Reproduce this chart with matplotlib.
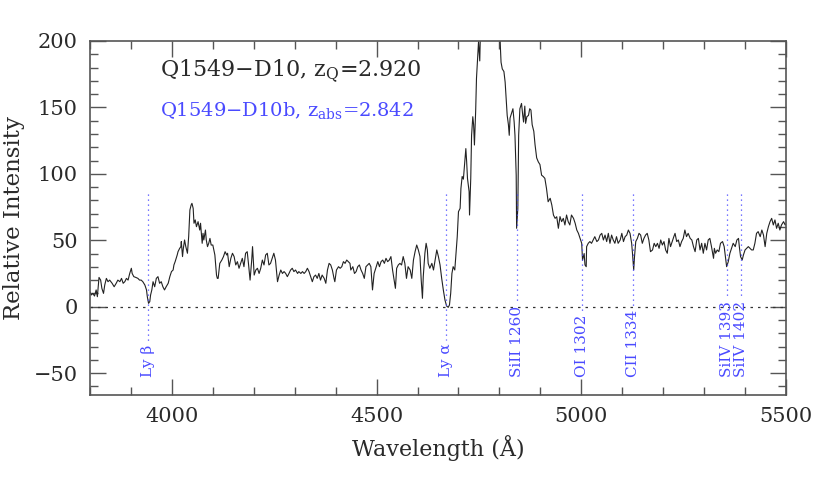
import numpy as np
import matplotlib
matplotlib.use("Agg")
import matplotlib.pyplot as plt
from matplotlib.ticker import MultipleLocator

# spectrum (wavelength in A, relative intensity)
wave = [3800, 3803, 3807, 3811, 3815, 3818, 3822, 3826, 3829, 3833, 3836, 3840, 3844, 3848,
        3854, 3859, 3864, 3868, 3873, 3877, 3881, 3885, 3889, 3893, 3897, 3901, 3903, 3907,
        3912, 3917, 3921, 3925, 3929, 3934, 3938, 3940, 3943, 3946, 3948, 3951, 3954, 3958,
        3962, 3966, 3970, 3974, 3978, 3982, 3986, 3991, 3995, 3999, 4003, 4005, 4008, 4013,
        4015, 4019, 4022, 4023, 4026, 4028, 4031, 4034, 4038, 4041, 4044, 4047, 4049, 4052,
        4054, 4057, 4060, 4064, 4068, 4070, 4074, 4076, 4078, 4082, 4084, 4087, 4090, 4093,
        4096, 4100, 4105, 4109, 4111,
        4113, 4117, 4122, 4126, 4130, 4134, 4136, 4140, 4144, 4148, 4152, 4156, 4160, 4164,
        4168, 4172, 4176, 4180, 4184, 4187, 4191, 4195, 4197, 4201, 4205, 4209, 4213, 4217,
        4221, 4225, 4229, 4233, 4237, 4241, 4245, 4249, 4253, 4258, 4262, 4266, 4270, 4274,
        4278, 4282, 4286, 4290, 4294, 4298, 4302, 4307, 4310, 4315, 4319, 4323, 4327, 4331,
        4335, 4339, 4343, 4347, 4351, 4355, 4359, 4363, 4367, 4372, 4376, 4380, 4384, 4388,
        4392, 4396, 4398, 4402, 4407,
        4411, 4415, 4419, 4423, 4427, 4431, 4435, 4437, 4442, 4446, 4450, 4454, 4458, 4462,
        4466, 4470, 4474, 4478, 4482, 4486, 4490, 4494, 4499, 4503, 4507, 4511, 4515, 4519,
        4523, 4527, 4531, 4535, 4539, 4543, 4546, 4549, 4553, 4557, 4561, 4565, 4569, 4573,
        4577, 4582, 4586, 4590, 4594, 4598, 4602, 4606, 4609, 4612, 4614, 4618, 4621, 4624,
        4626, 4630, 4635, 4639, 4643, 4647, 4651, 4655, 4659, 4663, 4667, 4671, 4675, 4678,
        4681, 4684, 4687, 4691, 4694, 4697,
        4700, 4704, 4706, 4709, 4712, 4714, 4718, 4720, 4722, 4726, 4727, 4730, 4732, 4735,
        4737, 4739, 4742, 4744, 4747, 4749, 4752, 4755, 4765, 4775, 4785, 4795, 4801, 4804,
        4807, 4811, 4814, 4816, 4819, 4822, 4824, 4826, 4830, 4833, 4836, 4838, 4841, 4842,
        4845, 4847, 4850, 4854, 4857, 4859, 4862, 4864, 4867, 4871, 4874, 4877, 4880, 4884,
        4887, 4891, 4895, 4899, 4903, 4907, 4911, 4915, 4919, 4924, 4928, 4932, 4936, 4940,
        4944,
        4948, 4952, 4956, 4960, 4964, 4968, 4972, 4976, 4981, 4985, 4989, 4993, 4997, 5001,
        5003, 5007, 5009, 5012, 5013, 5017, 5021, 5025, 5029, 5033, 5038, 5042, 5046, 5050,
        5054, 5058, 5062, 5066, 5070, 5074, 5078, 5082, 5086, 5090, 5095, 5099, 5103, 5107,
        5111, 5115, 5119, 5123, 5125, 5128, 5130, 5133, 5137, 5141, 5145, 5149, 5153, 5157,
        5161, 5165, 5169, 5174, 5178, 5182, 5186, 5190, 5194, 5198, 5202, 5206, 5210, 5214,
        5218, 5222, 5226,
        5229, 5233, 5237, 5241, 5245, 5249, 5253, 5257, 5261, 5266, 5270, 5274, 5278, 5282,
        5286, 5290, 5294, 5298, 5302, 5306, 5310, 5314, 5318, 5323, 5325, 5328, 5332, 5336,
        5340, 5345, 5349, 5352, 5355, 5359, 5363, 5367, 5371, 5376, 5380, 5384, 5386, 5389,
        5393, 5396, 5400, 5404, 5408, 5412, 5416, 5420, 5424, 5428, 5432, 5437, 5441, 5445,
        5449, 5453, 5457, 5461, 5465, 5469, 5473, 5477, 5481, 5485, 5489, 5494, 5498, 5502]

flux = [11, 8.8, 10, 8, 12.6, 7.5, 22, 20, 13.8, 10, 16.3, 21.3, 18.8, 20,
        17.6, 15, 17.6, 20, 18.8, 21.3, 17.6, 18.8, 21.3, 20, 25, 28.9, 25, 22.6,
        22, 21.3, 20, 20, 18.8, 16.3, 12.6, 7.5, 2.5, 3.8, 8.8, 12.6, 18.8, 15,
        21.3, 22.6, 17.6, 18.8, 15, 12.6, 15, 17.6, 22.6, 26.4, 27.6, 31.4, 33.9, 38.9,
        41.4, 43.9, 45.2, 49, 37.7, 43.9, 50.2, 45.2, 40.2, 52.7, 72.8, 76.5, 77.8, 74,
        62.8, 65.3, 60.2, 64, 57.7, 62.8, 47.7, 55.2, 50.2, 57.7, 50.2, 45.2, 47.7, 51.4,
        46.4, 46.4, 38.9, 23.8, 21.3,
        21.3, 32.6, 35.1, 37.7, 41.4, 38.9, 40.2, 30.1, 36.4, 40.2, 37.7, 31.4, 33.9, 28.9,
        32.6, 36.4, 30.1, 40.2, 41.4, 32.6, 20, 35.1, 45.2, 23.8, 27.6, 28.9, 25, 28.9,
        35.1, 31.4, 38.9, 40.2, 31.4, 32.6, 36.4, 40.2, 35.1, 18.8, 23.8, 27.6, 25, 26.4,
        25, 22.6, 25, 27.6, 28.9, 26.4, 27.6, 25, 26.4, 25, 26.4, 25, 26.4, 28.9,
        26.4, 22.6, 18.8, 22.6, 23.8, 21.3, 25, 20, 23.8, 21.3, 17.6, 27.6, 32.6, 31.4,
        27.6, 21.3, 18.8, 27.6, 30.1,
        28.9, 30.1, 33.9, 32.6, 35.1, 33.9, 32.6, 27.6, 30.1, 25, 26.4, 30.1, 31.4, 27.6,
        25, 21.3, 30.1, 31.4, 32.6, 30.1, 12.6, 25, 30.1, 33.9, 30.1, 33.9, 35.1, 32.6,
        36.4, 33.9, 35.1, 37.7, 27.6, 20, 13.8, 28.9, 31.4, 32.6, 31.4, 37.7, 32.6, 21.3,
        30.1, 27.6, 21.3, 35.1, 41.4, 46.4, 42.7, 37.7, 20, 6.3, 22.6, 40.2, 47.7, 42.7,
        32.6, 28.9, 32.6, 27.6, 35.1, 42.7, 37.7, 31.4, 21.3, 12.6, 5, 0.5, -0.5, 1.3,
        10, 25, 30.1, 27.6, 40.2, 52.7,
        71.5, 74, 89, 98, 96, 104, 119, 109, 96.6, 86.6, 69, 96.6, 129, 143,
        137, 121.7, 147.3, 171.9, 189, 199.5, 185, 225, 250, 260, 250, 225, 205, 184,
        179, 177, 169, 159, 144, 137, 129, 142, 146, 149, 139, 129, 99, 59,
        74, 129, 149, 153, 144, 139, 151, 138, 143, 144, 149, 148, 137, 132,
        122, 112, 109, 107, 99, 98, 96.6, 89, 79, 81.6, 76.5, 69, 66.5, 67.7,
        59,
        67.8, 64, 66.5, 61.5, 69, 64, 61.5, 69, 66.5, 62.8, 57.7, 55.2, 51.4, 47.7,
        35, 40, 31.4, 30.1, 45.2, 47.7, 49, 47.7, 50.2, 52.7, 49, 50.2, 53.9, 55.2,
        50.2, 53.9, 49, 55.2, 47.7, 53.9, 50.2, 47.7, 52.7, 47.7, 50.2, 55.2, 49, 52.7,
        53.9, 57.7, 55.2, 47.7, 40.2, 27.6, 37.7, 49, 51.4, 55.2, 53.9, 47.7, 51.4, 53.9,
        55.2, 50.2, 41.4, 42.7, 47.7, 45.2, 47.7, 43.9, 50.2, 46.4, 49, 42.7, 40.2, 51.4,
        45.2, 49, 52.7,
        55.2, 49, 50.2, 45.2, 49, 51.4, 57.7, 52.7, 55.2, 51.4, 50.2, 45.2, 41.4, 50.2,
        51.4, 42.7, 47.7, 40.2, 47.7, 42.7, 50.2, 51.4, 45.2, 36.4, 43.9, 40.2, 42.7, 41.4,
        47.7, 49, 45.2, 37.7, 30.1, 33.9, 40.2, 43.9, 47.7, 45.2, 50.2, 51.4, 45.2, 37.7,
        35.1, 38.9, 42.7, 43.9, 45.2, 43.9, 42.7, 42.7, 47.7, 55.2, 56.5, 52.7, 57.7, 53.9,
        45.2, 55.2, 60.2, 64, 66.5, 61.5, 65.3, 59, 62.8, 57.7, 61.5, 64, 61.5, 62.8]

# absorber lines at z_abs = 2.842
line_names = ["Ly β", "Ly α", "SiII 1260", "OI 1302", "CII 1334", "SiIV 1393", "SiIV 1402"]
rest_wave = [1025.72, 1215.67, 1260.42, 1302.17, 1334.53, 1393.76, 1402.77]
z_abs = 2.842

blue = "#4a4aff"
ink = "#2a2a2a"
plt.rcParams["font.family"] = ["DejaVu Serif"]
plt.rcParams["mathtext.fontset"] = "custom"
plt.rcParams["mathtext.rm"] = "DejaVu Serif"
plt.rcParams["mathtext.it"] = "DejaVu Serif:italic"

fig = plt.figure(figsize=(8.3, 5.01), dpi=100)
ax = fig.add_axes([90 / 830, 106 / 501, 696 / 830, 354 / 501])

ax.plot(wave, flux, color="#222222", lw=0.8)
ax.axhline(0, color="#333333", lw=0.9, ls=(0, (2, 4)))

ax.set_xlim(3800, 5500)
ax.set_ylim(-66.5, 200)
ax.xaxis.set_major_locator(MultipleLocator(500))
ax.xaxis.set_minor_locator(MultipleLocator(100))
ax.yaxis.set_major_locator(MultipleLocator(50))
ax.yaxis.set_minor_locator(MultipleLocator(10))
ax.tick_params(which="both", direction="in", top=True, right=True, color="#555555")
ax.tick_params(which="major", length=11.5, width=1, pad=9, labelsize=15,
               labelcolor=ink)
ax.tick_params(which="minor", length=6, width=1)
for sp in ax.spines.values():
    sp.set_color("#555555")
    sp.set_linewidth(1.2)

ax.set_xlabel("Wavelength (Å)", fontsize=16, labelpad=6, color=ink)
ax.set_ylabel("Relative Intensity", fontsize=16.5, labelpad=6, color=ink)

ax.text(3971, 176.7, "Q1549−D10, z$_{\\rm Q}$=2.920",
        fontsize=16, va="center", color=ink)
ax.text(3971, 148, "Q1549−D10b, z$_{\\rm abs}$=2.842",
        fontsize=14, va="center", color=blue)

labels = []
for name, rw in zip(line_names, rest_wave):
    x = rw * (1 + z_abs)
    t = ax.text(x, -53, name, rotation=90, ha="center", va="bottom", color=blue,
                fontsize=11)
    labels.append((x, t))

fig.canvas.draw()
inv = ax.transData.inverted()
for x, t in labels:
    bb = t.get_window_extent()
    top = inv.transform((bb.x0, bb.y1 + 3))[1]
    ax.plot([x, x], [85, top], color=blue, lw=0.9, ls=(0, (1, 3)))

fig.savefig("out.png", dpi=100)
